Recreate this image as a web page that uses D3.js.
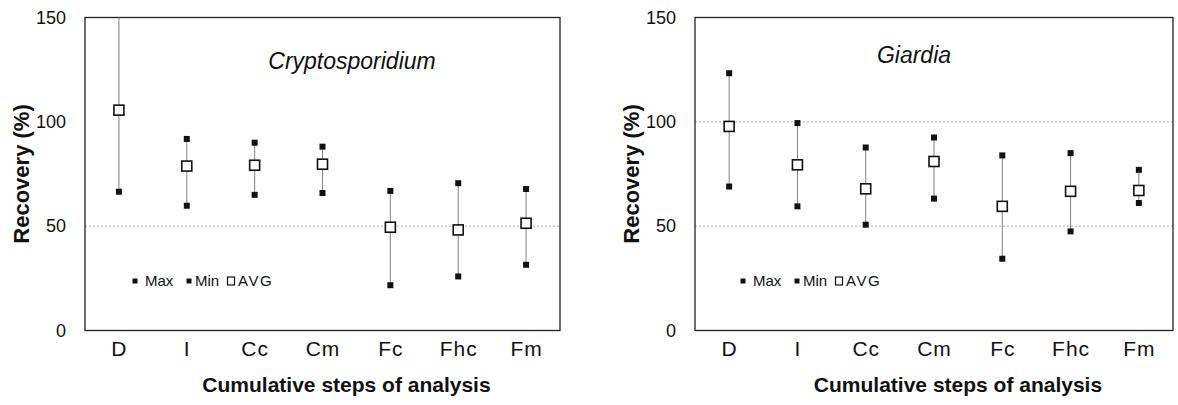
<!DOCTYPE html>
<html>
<head>
<meta charset="utf-8">
<script src="https://cdn.jsdelivr.net/npm/d3@7"></script>
<style>
  body { margin: 0; background: #fff; }
  svg { display: block; font-family: "Liberation Sans", Arial, sans-serif; }
</style>
</head>
<body>
<div id="chart"></div>
<script>
const categories = ["D", "I", "Cc", "Cm", "Fc", "Fhc", "Fm"];
const yTicks = [0, 50, 100, 150];
const legendLabels = ["Max", "Min", "AVG"];

// Cryptosporidium (D max runs off the top of the chart)
const cryptoMax = [158, 91.8, 90.0, 88.1, 66.9, 70.6, 67.8];
const cryptoMin = [66.5, 59.8, 65.0, 65.9, 21.7, 25.9, 31.5];
const cryptoAvg = [105.6, 78.8, 79.2, 79.7, 49.5, 48.2, 51.4];
const cryptoGrid = [50];

// Giardia
const giardiaMax = [123.3, 99.4, 87.7, 92.5, 83.9, 85.0, 77.0];
const giardiaMin = [69.0, 59.5, 50.7, 63.2, 34.4, 47.5, 61.1];
const giardiaAvg = [97.8, 79.4, 67.9, 81.0, 59.5, 66.7, 67.1];
const giardiaGrid = [50, 100];

const W = 1178, H = 405;
const plotTop = 17.5, plotBottom = 330.5;

const svg = d3.select("#chart").append("svg")
  .attr("width", W)
  .attr("height", H);

svg.append("rect").attr("width", W).attr("height", H).attr("fill", "#fff");

const panels = [
  { title: "Cryptosporidium", max: cryptoMax, min: cryptoMin, avg: cryptoAvg, grid: cryptoGrid,
    left: 85, right: 560, titleX: 352, titleY: 69, legendX: 135 },
  { title: "Giardia", max: giardiaMax, min: giardiaMin, avg: giardiaAvg, grid: giardiaGrid,
    left: 695, right: 1173, titleX: 914, titleY: 63, legendX: 743 }
];

panels.forEach((p, pi) => {
  let x = d3.scalePoint()
    .domain(categories)
    .range([p.left, p.right])
    .padding(0.5);

  let y = d3.scaleLinear()
    .domain([0, 150])
    .range([plotBottom, plotTop]);

  let g = svg.append("g");

  let clipId = "clip" + pi;
  svg.append("clipPath").attr("id", clipId)
    .append("rect")
    .attr("x", p.left).attr("y", plotTop)
    .attr("width", p.right - p.left).attr("height", plotBottom - plotTop);

  // gridlines
  g.append("g")
    .selectAll("line")
    .data(p.grid)
    .enter()
    .append("line")
    .attr("x1", p.left)
    .attr("x2", p.right)
    .attr("y1", d => y(d))
    .attr("y2", d => y(d))
    .attr("stroke", "#b0b0b0")
    .attr("stroke-width", 1)
    .attr("stroke-dasharray", "2,2");

  // frame
  g.append("rect")
    .attr("x", p.left)
    .attr("y", plotTop)
    .attr("width", p.right - p.left)
    .attr("height", plotBottom - plotTop)
    .attr("fill", "none")
    .attr("stroke", "#222")
    .attr("stroke-width", 1.3);

  // y axis
  let yAxis = g.append("g")
    .attr("transform", "translate(" + p.left + ",0)")
    .call(d3.axisLeft(y).tickValues(yTicks).tickSize(0).tickPadding(19));
  yAxis.select(".domain").remove();
  yAxis.selectAll("text")
    .attr("font-size", 18)
    .attr("font-family", "Liberation Sans, Arial, sans-serif")
    .attr("fill", "#111");

  // x axis
  let xAxis = g.append("g")
    .attr("transform", "translate(0," + plotBottom + ")")
    .call(d3.axisBottom(x).tickSize(0).tickPadding(11));
  xAxis.select(".domain").remove();
  xAxis.selectAll("text")
    .attr("font-size", 21)
    .attr("letter-spacing", 1)
    .attr("font-family", "Liberation Sans, Arial, sans-serif")
    .attr("fill", "#111");

  const rows = categories.map((c, i) => ({ cat: c, max: p.max[i], min: p.min[i], avg: p.avg[i] }));

  let marks = g.append("g").attr("clip-path", "url(#" + clipId + ")");

  // range lines
  marks.selectAll("line.range")
    .data(rows)
    .enter()
    .append("line")
    .attr("class", "range")
    .attr("x1", d => x(d.cat))
    .attr("x2", d => x(d.cat))
    .attr("y1", d => y(d.min))
    .attr("y2", d => y(d.max))
    .attr("stroke", "#808080")
    .attr("stroke-width", 1);

  // max and min markers
  ["max", "min"].forEach(k => {
    marks.selectAll("rect." + k)
      .data(rows)
      .enter()
      .append("rect")
      .attr("class", k)
      .attr("x", d => x(d.cat) - 3)
      .attr("y", d => y(d[k]) - 3)
      .attr("width", 6)
      .attr("height", 6)
      .attr("fill", "#111");
  });

  // avg markers
  marks.selectAll("rect.avg")
    .data(rows)
    .enter()
    .append("rect")
    .attr("class", "avg")
    .attr("x", d => x(d.cat) - 5)
    .attr("y", d => y(d.avg) - 5)
    .attr("width", 10)
    .attr("height", 10)
    .attr("fill", "#fff")
    .attr("stroke", "#111")
    .attr("stroke-width", 1.6);

  // title
  g.append("text")
    .attr("x", p.titleX)
    .attr("y", p.titleY)
    .attr("text-anchor", "middle")
    .attr("font-size", 23)
    .attr("font-style", "italic")
    .attr("fill", "#111")
    .text(p.title);

  // legend
  const legendY = 281;
  const offsets = [0, 54, 96];
  const textGap = [10, 6, 7];
  let lg = g.append("g").attr("transform", "translate(" + p.legendX + "," + legendY + ")");
  legendLabels.forEach((lab, i) => {
    let ox = offsets[i];
    if (i < 2) {
      lg.append("rect")
        .attr("x", ox - 2.5).attr("y", -2.5)
        .attr("width", 5).attr("height", 5)
        .attr("fill", "#111");
    } else {
      lg.append("rect")
        .attr("x", ox - 3.5).attr("y", -4)
        .attr("width", 7).attr("height", 8)
        .attr("fill", "#fff")
        .attr("stroke", "#111")
        .attr("stroke-width", 1.2);
    }
    lg.append("text")
      .attr("x", ox + textGap[i])
      .attr("y", 5)
      .attr("font-size", 15)
      .attr("letter-spacing", i === 2 ? 1.5 : 0)
      .attr("fill", "#111")
      .text(lab);
  });

  // axis titles
  g.append("text")
    .attr("transform", "translate(" + (p.left - 64) + "," + 174 + ") rotate(-90)")
    .attr("text-anchor", "middle")
    .attr("dy", "0.35em")
    .attr("font-size", 22)
    .attr("font-weight", "bold")
    .attr("fill", "#111")
    .text("Recovery (%)");

  g.append("text")
    .attr("x", (p.left + p.right) / 2 + 24)
    .attr("y", 392)
    .attr("text-anchor", "middle")
    .attr("font-size", 21)
    .attr("font-weight", "bold")
    .attr("fill", "#111")
    .text("Cumulative steps of analysis");
});
</script>
</body>
</html>
